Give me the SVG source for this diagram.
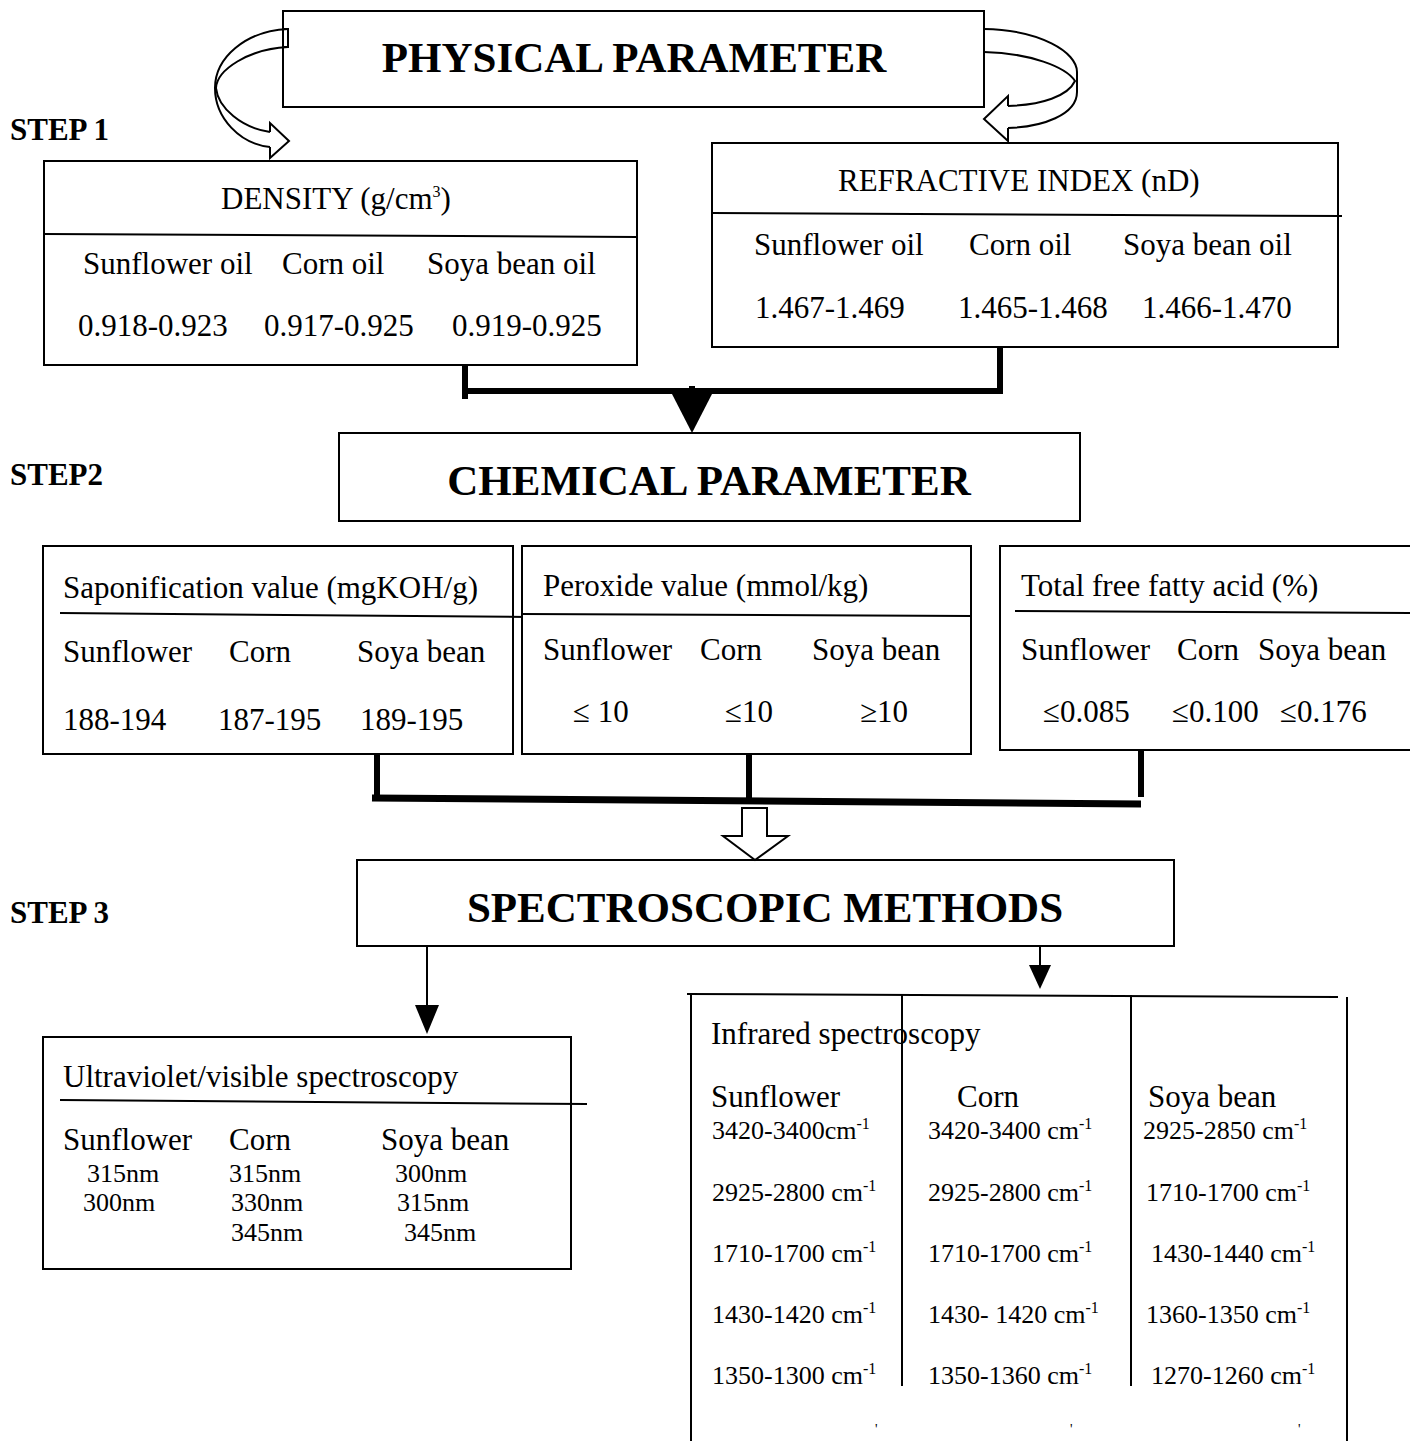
<svg xmlns="http://www.w3.org/2000/svg" width="1410" height="1441" viewBox="0 0 1410 1441">
  <style>
    .t { font-family: "Liberation Serif", "Times New Roman", serif; font-size: 31px; fill: #000; }
    .s { font-family: "Liberation Serif", "Times New Roman", serif; font-size: 26px; fill: #000; }
    .h { font-family: "Liberation Serif", "Times New Roman", serif; font-size: 43px; font-weight: bold; fill: #000; }
    .step { font-family: "Liberation Serif", "Times New Roman", serif; font-size: 31px; font-weight: bold; fill: #000; }
    .box { fill: #fff; stroke: #000; stroke-width: 2; }
    .rule { stroke: #000; stroke-width: 2; fill: none; }
    .thick { stroke: #000; stroke-width: 6; fill: none; }
    .hollow { fill: #fff; stroke: #000; stroke-width: 2; stroke-linejoin: miter; }
    .sup { font-size: 16px; }
    .tick { font-family: "Liberation Serif", "Times New Roman", serif; font-size: 14px; fill: #000; }
  </style>
  <rect x="0" y="0" width="1410" height="1441" fill="#fff"/>

  <!-- step labels -->
  <text class="step" x="10" y="140">STEP 1</text>
  <text class="step" x="10" y="485">STEP2</text>
  <text class="step" x="10" y="923">STEP 3</text>

  <!-- step 1 -->
  <g id="physical">
    <rect class="box" x="283" y="11" width="701" height="96"/>
    <text class="h" x="634" y="72" text-anchor="middle">PHYSICAL PARAMETER</text>
  </g>

  <g id="density">
    <rect class="box" x="44" y="161" width="593" height="204"/>
    <line class="rule" x1="44" y1="234" x2="637" y2="237"/>
    <text class="t" x="221" y="209">DENSITY (g/cm<tspan class="sup" dy="-12">3</tspan><tspan dy="12">)</tspan></text>
    <text class="t" x="83" y="274">Sunflower oil</text>
    <text class="t" x="282" y="274">Corn oil</text>
    <text class="t" x="427" y="274">Soya bean oil</text>
    <text class="t" x="78" y="336">0.918-0.923</text>
    <text class="t" x="264" y="336">0.917-0.925</text>
    <text class="t" x="452" y="336">0.919-0.925</text>
  </g>

  <g id="refractive">
    <rect class="box" x="712" y="143" width="626" height="204"/>
    <line class="rule" x1="712" y1="213" x2="1342" y2="216"/>
    <text class="t" x="838" y="191">REFRACTIVE INDEX (nD)</text>
    <text class="t" x="754" y="255">Sunflower oil</text>
    <text class="t" x="969" y="255">Corn oil</text>
    <text class="t" x="1123" y="255">Soya bean oil</text>
    <text class="t" x="755" y="318">1.467-1.469</text>
    <text class="t" x="958" y="318">1.465-1.468</text>
    <text class="t" x="1142" y="318">1.466-1.470</text>
  </g>

  <!-- step 2 -->
  <g id="chemical">
    <rect class="box" x="339" y="433" width="741" height="88"/>
    <text class="h" x="709" y="495" text-anchor="middle">CHEMICAL PARAMETER</text>
  </g>

  <g id="saponification">
    <rect class="box" x="43" y="546" width="470" height="208"/>
    <line class="rule" x1="60" y1="613" x2="527" y2="617"/>
    <text class="t" x="63" y="598">Saponification value (mgKOH/g)</text>
    <text class="t" x="63" y="662">Sunflower</text>
    <text class="t" x="229" y="662">Corn</text>
    <text class="t" x="357" y="662">Soya bean</text>
    <text class="t" x="63" y="730">188-194</text>
    <text class="t" x="218" y="730">187-195</text>
    <text class="t" x="360" y="730">189-195</text>
  </g>

  <g id="peroxide">
    <rect class="box" x="522" y="546" width="449" height="208"/>
    <line class="rule" x1="522" y1="614" x2="971" y2="616"/>
    <text class="t" x="543" y="596">Peroxide value (mmol/kg)</text>
    <text class="t" x="543" y="660">Sunflower</text>
    <text class="t" x="700" y="660">Corn</text>
    <text class="t" x="812" y="660">Soya bean</text>
    <text class="t" x="573" y="722">≤ 10</text>
    <text class="t" x="725" y="722">≤10</text>
    <text class="t" x="860" y="722">≥10</text>
  </g>

  <g id="free-fatty-acid">
    <rect class="box" x="1000" y="546" width="420" height="204"/>
    <line class="rule" x1="1015" y1="611" x2="1410" y2="613"/>
    <text class="t" x="1021" y="596">Total free fatty acid (%)</text>
    <text class="t" x="1021" y="660">Sunflower</text>
    <text class="t" x="1177" y="660">Corn</text>
    <text class="t" x="1258" y="660">Soya bean</text>
    <text class="t" x="1043" y="722">≤0.085</text>
    <text class="t" x="1172" y="722">≤0.100</text>
    <text class="t" x="1280" y="722">≤0.176</text>
  </g>

  <!-- step 3 -->
  <g id="spectroscopic">
    <rect class="box" x="357" y="860" width="817" height="86"/>
    <text class="h" x="765" y="922" text-anchor="middle">SPECTROSCOPIC METHODS</text>
  </g>

  <g id="uv-vis">
    <rect class="box" x="43" y="1037" width="528" height="232"/>
    <line class="rule" x1="60" y1="1100" x2="587" y2="1104"/>
    <text class="t" x="63" y="1087">Ultraviolet/visible spectroscopy</text>
    <text class="t" x="63" y="1150">Sunflower</text>
    <text class="t" x="229" y="1150">Corn</text>
    <text class="t" x="381" y="1150">Soya bean</text>
    <text class="s" x="87" y="1182">315nm</text>
    <text class="s" x="229" y="1182">315nm</text>
    <text class="s" x="395" y="1182">300nm</text>
    <text class="s" x="83" y="1211">300nm</text>
    <text class="s" x="231" y="1211">330nm</text>
    <text class="s" x="397" y="1211">315nm</text>
    <text class="s" x="231" y="1241">345nm</text>
    <text class="s" x="404" y="1241">345nm</text>
  </g>

  <g id="infrared">
    <line class="rule" x1="687" y1="994" x2="1338" y2="997" stroke-width="3"/>
    <line class="rule" x1="691" y1="994" x2="691" y2="1441"/>
    <line class="rule" x1="1347" y1="997" x2="1347" y2="1441"/>
    <line class="rule" x1="902" y1="994" x2="902" y2="1386"/>
    <line class="rule" x1="1131" y1="995" x2="1131" y2="1386"/>
    <text class="t" x="711" y="1044">Infrared spectroscopy</text>
    <text class="t" x="711" y="1107">Sunflower</text>
    <text class="t" x="957" y="1107">Corn</text>
    <text class="t" x="1148" y="1107">Soya bean</text>

    <text class="s" x="712" y="1139">3420-3400cm<tspan class="sup" dy="-10">-1</tspan></text>
    <text class="s" x="928" y="1139">3420-3400 cm<tspan class="sup" dy="-10">-1</tspan></text>
    <text class="s" x="1143" y="1139">2925-2850 cm<tspan class="sup" dy="-10">-1</tspan></text>

    <text class="s" x="712" y="1201">2925-2800 cm<tspan class="sup" dy="-10">-1</tspan></text>
    <text class="s" x="928" y="1201">2925-2800 cm<tspan class="sup" dy="-10">-1</tspan></text>
    <text class="s" x="1146" y="1201">1710-1700 cm<tspan class="sup" dy="-10">-1</tspan></text>

    <text class="s" x="712" y="1262">1710-1700 cm<tspan class="sup" dy="-10">-1</tspan></text>
    <text class="s" x="928" y="1262">1710-1700 cm<tspan class="sup" dy="-10">-1</tspan></text>
    <text class="s" x="1151" y="1262">1430-1440 cm<tspan class="sup" dy="-10">-1</tspan></text>

    <text class="s" x="712" y="1323">1430-1420 cm<tspan class="sup" dy="-10">-1</tspan></text>
    <text class="s" x="928" y="1323">1430- 1420 cm<tspan class="sup" dy="-10">-1</tspan></text>
    <text class="s" x="1146" y="1323">1360-1350 cm<tspan class="sup" dy="-10">-1</tspan></text>

    <text class="s" x="712" y="1384">1350-1300 cm<tspan class="sup" dy="-10">-1</tspan></text>
    <text class="s" x="928" y="1384">1350-1360 cm<tspan class="sup" dy="-10">-1</tspan></text>
    <text class="s" x="1151" y="1384">1270-1260 cm<tspan class="sup" dy="-10">-1</tspan></text>

    <!-- marks left over where the next row runs off the page -->
    <text class="tick" x="875" y="1434">'</text>
    <text class="tick" x="1070" y="1434">'</text>
    <text class="tick" x="1298" y="1434">'</text>
  </g>

  <!-- connectors -->
  <g id="connectors">
    <!-- curved ribbon arrows from PHYSICAL PARAMETER -->
    <g fill="none" stroke="#000" stroke-width="2">
      <path d="M283,29 L288,29 L288,47 L283,47"/>
      <path d="M288,29 C245,31 215,58 215,88 C215,118 240,144 270,147"/>
      <path d="M288,47 C248,49 217,70 216,88 C218,108 242,128 270,132"/>
      <path class="hollow" d="M270,132 L270,123 L289,141 L270,158 L270,147"/>

      <path d="M984,29 C1040,30 1077,52 1077,72 L1077,92 C1077,115 1042,127 1008,128"/>
      <path d="M984,52 C1030,53 1066,67 1075,81 C1068,96 1042,105 1008,106"/>
      <path class="hollow" d="M1008,106 L1008,96 L984,119 L1008,141 L1008,128"/>
    </g>

    <!-- step 1 to step 2 -->
    <line class="thick" x1="465" y1="365" x2="465" y2="399"/>
    <line class="thick" x1="1000" y1="347" x2="1000" y2="394"/>
    <line class="thick" x1="462" y1="391" x2="1003" y2="391"/>
    <line class="thick" x1="692" y1="386" x2="692" y2="393"/>
    <path d="M672,394 L712,394 L692,433 Z" fill="#000"/>

    <!-- step 2 to step 3 -->
    <line class="thick" x1="377" y1="754" x2="377" y2="800" stroke-width="5"/>
    <line class="thick" x1="749" y1="754" x2="749" y2="801" stroke-width="5"/>
    <line class="thick" x1="1141" y1="750" x2="1141" y2="797" stroke-width="5"/>
    <path d="M372,798 L1141,804" stroke="#000" stroke-width="7" fill="none"/>
    <path class="hollow" d="M742,808 L767,808 L767,836 L788,836 L755,860 L723,836 L742,836 Z"/>

    <!-- step 3 to the two methods -->
    <line class="rule" x1="427" y1="946" x2="427" y2="1008" stroke-width="3"/>
    <path d="M415,1005 L439,1005 L427,1034 Z" fill="#000"/>
    <line class="rule" x1="1040" y1="946" x2="1040" y2="968" stroke-width="3"/>
    <path d="M1029,965 L1051,965 L1040,989 Z" fill="#000"/>
  </g>
</svg>
